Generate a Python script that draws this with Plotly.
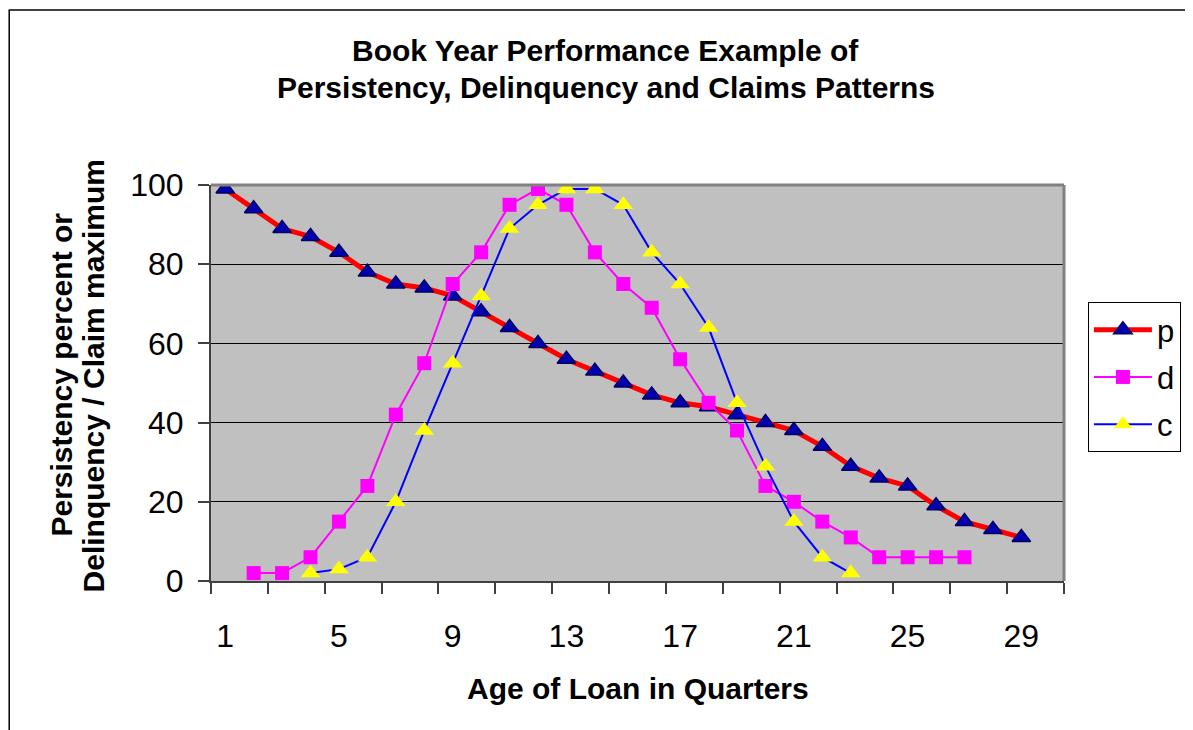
import plotly.graph_objects as go

# ---- data ----
quarters_p = list(range(1, 30))
p_vals = [99, 94, 89, 87, 83, 78, 75, 74, 72, 68, 64, 60, 56, 53, 50, 47, 45, 44, 42, 40,
          38, 34, 29, 26, 24, 19, 15, 13, 11]
quarters_d = list(range(2, 28))
d_vals = [2, 2, 6, 15, 24, 42, 55, 75, 83, 95, 99, 95, 83, 75, 69, 56, 45, 38, 24, 20,
          15, 11, 6, 6, 6, 6]
quarters_c = list(range(4, 24))
c_vals = [2, 3, 6, 20, 38, 55, 72, 89, 95, 99, 99, 95, 83, 75, 64, 45, 29, 15, 6, 2]

x_tick_vals = [1, 5, 9, 13, 17, 21, 25, 29]
x_tick_text = ["1", "5", "9", "13", "17", "21", "25", "29"]
y_tick_vals = [0, 20, 40, 60, 80, 100]
n_categories = 30

FONT = "Liberation Sans, Arial, sans-serif"

# page body has an 8px margin: work in screen pixels, shift into figure coords
OFF = 8
W, H = 1193 - OFF, 730 - OFF
L, R, T, B = 211, 1067, 185, 581   # plot area in screen pixels


def px_x(px):
    return (px - L) / (R - L)


def px_y(py):
    return (B - py) / (B - T)


fig = go.Figure()
fig.add_trace(go.Scatter(
    x=quarters_p, y=p_vals, name="p", mode="lines+markers", legendgroup="p",
    line=dict(color="#FF0000", width=5),
    marker=dict(symbol="triangle-up", size=16, color="#0000B0",
                line=dict(color="#000060", width=1.5)),
))
fig.add_trace(go.Scatter(
    x=quarters_d, y=d_vals, name="d", mode="lines+markers", legendgroup="d",
    line=dict(color="#FF00FF", width=2),
    marker=dict(symbol="square", size=14, color="#FF00FF",
                line=dict(color="#FF00FF", width=0)),
))
fig.add_trace(go.Scatter(
    x=quarters_c, y=c_vals, name="c", mode="lines+markers", legendgroup="c",
    line=dict(color="#0000FF", width=2),
    marker=dict(symbol="triangle-up", size=17, color="#FFFF00",
                line=dict(color="#FFFF00", width=0)),
))

minor_ticks = [k + 0.5 for k in range(0, n_categories + 1, 2)]

fig.update_layout(
    width=W, height=H,
    margin=dict(l=L - OFF, r=(1193 - R), t=T - OFF, b=(730 - B), pad=0),
    paper_bgcolor="white",
    plot_bgcolor="#C0C0C0",
    font=dict(family=FONT, color="black"),
    showlegend=True,
    legend=dict(
        x=px_x(1091), y=px_y(302), xanchor="left", yanchor="top",
        bgcolor="white", bordercolor="black", borderwidth=1,
        font=dict(size=31, family=FONT), tracegroupgap=4, itemwidth=58,
    ),
    xaxis=dict(
        range=[0.5, n_categories + 0.5],
        tickmode="array", tickvals=x_tick_vals, ticktext=x_tick_text,
        ticks="outside", ticklen=11, tickcolor="rgba(0,0,0,0)",
        ticklabelstandoff=15,
        tickfont=dict(size=32, family=FONT),
        showgrid=False, zeroline=False,
        showline=True, linecolor="#404040", linewidth=2,
        minor=dict(tickmode="array", tickvals=minor_ticks, ticks="outside",
                   ticklen=11, tickcolor="#404040", tickwidth=1.5, showgrid=False),
    ),
    yaxis=dict(
        range=[0, 100],
        tickmode="array", tickvals=y_tick_vals,
        ticks="outside", ticklen=11, tickcolor="#404040", tickwidth=1.5,
        ticklabelstandoff=8,
        tickfont=dict(size=32, family=FONT),
        showgrid=True, gridcolor="black", gridwidth=1,
        zeroline=False,
        showline=True, linecolor="#404040", linewidth=2,
    ),
    shapes=[
        dict(type="line", xref="paper", yref="paper", x0=0, x1=1, y0=1, y1=1,
             line=dict(color="#808080", width=3)),
        dict(type="line", xref="paper", yref="paper", x0=1, x1=1, y0=0, y1=1,
             line=dict(color="#808080", width=3)),
        dict(type="line", xref="paper", yref="paper", x0=px_x(8.5), x1=px_x(8.5),
             y0=px_y(10), y1=px_y(740), line=dict(color="black", width=1.5)),
        dict(type="line", xref="paper", yref="paper", x0=px_x(8), x1=px_x(1200),
             y0=px_y(10), y1=px_y(10), line=dict(color="black", width=1.5)),
    ],
    annotations=[
        dict(text="<b>Book Year Performance Example of</b>", xref="paper", yref="paper",
             x=px_x(607), y=px_y(50), xanchor="center", yanchor="middle",
             showarrow=False, font=dict(size=30, family=FONT)),
        dict(text="<b>Persistency, Delinquency and Claims Patterns</b>", xref="paper",
             yref="paper", x=px_x(607), y=px_y(88), xanchor="center", yanchor="middle",
             showarrow=False, font=dict(size=30, family=FONT)),
        dict(text="<b>Age of Loan in Quarters</b>", xref="paper", yref="paper",
             x=px_x(640), y=px_y(688), xanchor="center", yanchor="middle",
             showarrow=False, font=dict(size=30, family=FONT)),
        dict(text="<b>Persistency percent or</b>", xref="paper", yref="paper",
             x=px_x(60), y=px_y(375), xanchor="center", yanchor="middle",
             textangle=-90, showarrow=False, font=dict(size=30, family=FONT)),
        dict(text="<b>Delinquency / Claim maximum</b>", xref="paper", yref="paper",
             x=px_x(93), y=px_y(376), xanchor="center", yanchor="middle",
             textangle=-90, showarrow=False, font=dict(size=30, family=FONT)),
    ],
)

fig.write_html("out.html")
